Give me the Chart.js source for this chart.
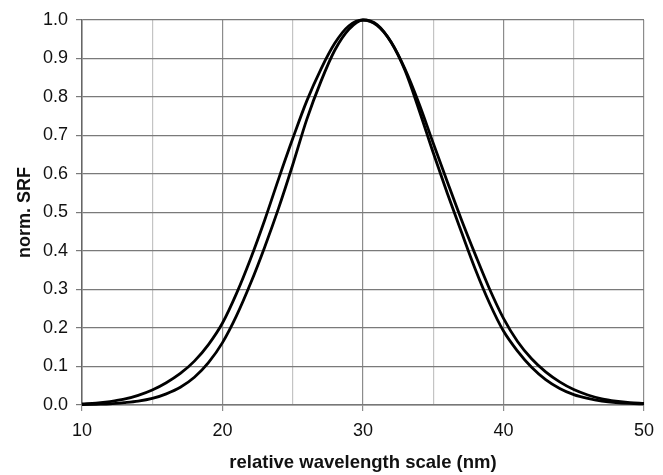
<!DOCTYPE html>
<html>
<head>
<meta charset="utf-8">
<script src="https://cdn.jsdelivr.net/npm/chart.js@4/dist/chart.umd.min.js"></script>
<style>
  html, body { margin: 0; padding: 0; background: #fff; }
  #wrap { width: 663px; height: 475px; }
</style>
</head>
<body>
<div id="wrap"><canvas id="srf"></canvas></div>
<script>
// relative wavelength (nm) and the two normalised SRF curves
const wavelength = [10, 11, 12, 13, 14, 15, 16, 17, 18, 19, 20, 21, 22, 23, 24, 25, 26, 27, 28, 29, 30,
                    31, 32, 33, 34, 35, 36, 37, 38, 39, 40, 41, 42, 43, 44, 45, 46, 47, 48, 49, 50];
const srfWide = [0.003, 0.005, 0.009, 0.015, 0.025, 0.039, 0.058, 0.082, 0.114, 0.157, 0.213,
                 0.290, 0.380, 0.480, 0.588, 0.692, 0.790, 0.872, 0.940, 0.985, 1.000,
                 0.986, 0.943, 0.872, 0.782, 0.680, 0.580, 0.482, 0.390, 0.302, 0.225,
                 0.165, 0.120, 0.086, 0.060, 0.040, 0.026, 0.016, 0.010, 0.006, 0.004];
const srfNarrow = [0.001, 0.002, 0.003, 0.006, 0.010, 0.017, 0.029, 0.046, 0.072, 0.110, 0.162,
                   0.232, 0.316, 0.410, 0.512, 0.624, 0.742, 0.840, 0.922, 0.976, 1.000,
                   0.988, 0.942, 0.868, 0.765, 0.655, 0.550, 0.450, 0.352, 0.265, 0.192,
                   0.140, 0.098, 0.066, 0.043, 0.027, 0.017, 0.010, 0.006, 0.004, 0.003];
const yTicks = [0, 0.1, 0.2, 0.3, 0.4, 0.5, 0.6, 0.7, 0.8, 0.9, 1.0];
const xTicks = [10, 20, 30, 40, 50];

const pts = ys => wavelength.map((x, i) => ({ x: x, y: ys[i] }));
const isMajor = v => xTicks.includes(v);

let ctx = document.getElementById('srf');
let chart = new Chart(ctx, {
    type: 'line',
    data: {
        datasets: [
            { data: pts(srfWide), borderColor: '#000', borderWidth: 2.8, pointRadius: 0,
              cubicInterpolationMode: 'monotone', fill: false, clip: false },
            { data: pts(srfNarrow), borderColor: '#000', borderWidth: 2.8, pointRadius: 0,
              cubicInterpolationMode: 'monotone', fill: false, clip: false }
        ]
    },
    options: {
        responsive: true, maintainAspectRatio: false, animation: false,
        layout: { padding: { top: 20, right: 18, left: 0, bottom: 0 } },
        plugins: { legend: { display: false }, tooltip: { enabled: false } },
        scales: {
            x: {
                type: 'linear', min: 10, max: 50,
                afterFit: s => { s.height = 70; },
                afterBuildTicks: s => { s.ticks = [10, 15, 20, 25, 30, 35, 40, 45, 50].map(v => ({ value: v })); },
                ticks: {
                    color: '#111', padding: 9, maxRotation: 0, autoSkip: false,
                    font: { family: 'Liberation Sans, Arial', size: 18 },
                    callback: v => isMajor(v) ? String(v) : ''
                },
                grid: {
                    color: c => isMajor(c.tick.value) ? '#8c8c8c' : '#c4c4c4',
                    tickColor: c => isMajor(c.tick.value) ? '#8c8c8c' : 'rgba(0,0,0,0)',
                    lineWidth: 1.2, tickLength: 6
                },
                border: { color: '#777', width: 1.5 },
                title: {
                    display: true, text: 'relative wavelength scale (nm)', color: '#111',
                    font: { family: 'Liberation Sans, Arial', size: 18.5, weight: 'bold' },
                    padding: { top: 0, bottom: 1 }
                }
            },
            y: {
                min: 0, max: 1,
                afterFit: s => { s.width = 82; },
                afterBuildTicks: s => { s.ticks = yTicks.map(v => ({ value: v })); },
                ticks: {
                    color: '#111', padding: 8,
                    font: { family: 'Liberation Sans, Arial', size: 18 },
                    callback: v => v.toFixed(1)
                },
                grid: { color: '#7a7a7a', lineWidth: 1.2, tickLength: 6, tickColor: '#7a7a7a' },
                border: { color: '#666', width: 1.5 },
                title: {
                    display: true, text: 'norm. SRF', color: '#111',
                    font: { family: 'Liberation Sans, Arial', size: 18, weight: 'bold' },
                    padding: { top: 14, bottom: 0 }
                }
            }
        }
    }
});
</script>
</body>
</html>
